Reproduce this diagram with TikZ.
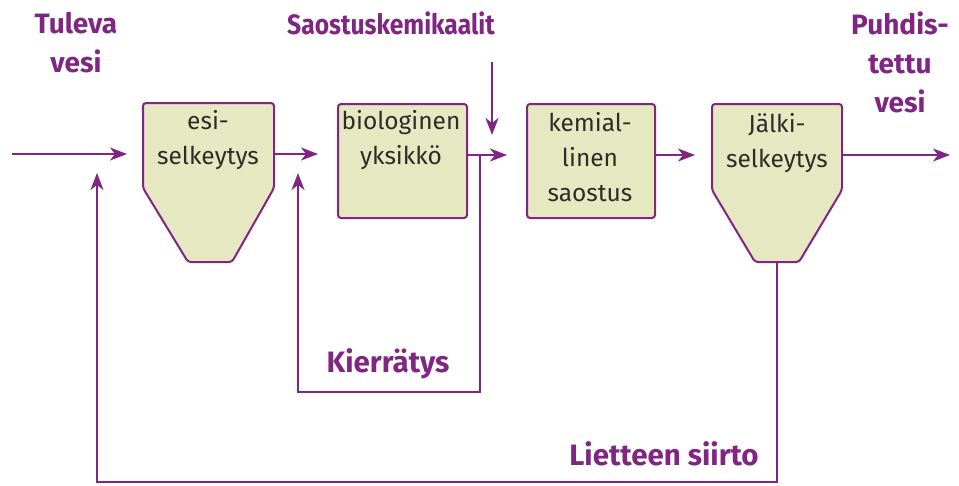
\documentclass[tikz,border=0pt]{standalone}
\usepackage{fontspec}
\setmainfont{Fira Sans}
\usetikzlibrary{arrows.meta}
\definecolor{pur}{RGB}{128,38,130}
\definecolor{boxfill}{RGB}{229,232,192}
\definecolor{txt}{RGB}{45,45,40}
\begin{document}
\begin{tikzpicture}[x=1pt,y=-1pt,
  flow/.style={draw=pur, line width=2pt},
  arr/.style={flow, -{Stealth[length=17pt,width=13pt,inset=5pt]}},
  unit/.style={draw=pur, line width=2pt, fill=boxfill, rounded corners=3pt},
  lab/.style={text=pur, font=\bfseries\fontsize{28}{39}\selectfont, align=center, inner sep=0pt},
  btxt/.style={text=txt, font=\fontsize{24.5}{35}\selectfont, align=center, inner sep=0pt}]
\useasboundingbox (0,0) rectangle (959,485);

% units
\draw[unit] (143,103) -- (274,103) -- (274,188) -- (232,262) -- (188,262) -- (143,188) -- cycle;
\node[btxt] (esi) at (208,140) {esi-\\selkeytys};
\node[unit, minimum width=129pt, minimum height=114pt, anchor=north west] (bio) at (337,103) {};
\node[btxt] (biot) at (401,140) {biologinen\\yksikkö};
\node[unit, minimum width=128pt, minimum height=114pt, anchor=north west] (kem) at (526,103) {};
\node[btxt] (kemt) at (590,157) {kemial-\\linen\\saostus};
\draw[unit] (712,104) -- (842,104) -- (842,190) -- (799,262) -- (755,262) -- (712,190) -- cycle;
\node[btxt] (jal) at (777,143) {Jälki-\\selkeytys};

% labels
\node[lab] (tul) at (76,43) {Tuleva\\vesi};
\node[lab] (sao) at (391,23) {\scalebox{0.88}[1]{Saostuskemikaalit}};
\node[lab] (puh) at (900,62) {Puhdis-\\tettu\\vesi};
\node[lab, font=\bfseries\fontsize{29.5}{39}\selectfont] (kie) at (388,364) {Kierrätys};
\node[lab, font=\bfseries\fontsize{29.5}{39}\selectfont] (lie) at (664,454) {Lietteen siirto};

% coordinates
\coordinate (in0) at (12,154);
\coordinate (in1) at (127,154);
\coordinate (esiR) at (274,154);
\coordinate (m1) at (318,154);
\coordinate (r1) at (97,173);
\coordinate (r2) at (298,173);
\coordinate (bioR) at (466,155);
\coordinate (br) at (480,155);
\coordinate (m2) at (507,155);
\coordinate (c0) at (492,62);
\coordinate (c1) at (492,135);
\coordinate (kemR) at (654,155);
\coordinate (m3) at (695,155);
\coordinate (jalR) at (842,155);
\coordinate (out) at (950,155);
\coordinate (jalB) at (777,262);
\coordinate (k1) at (480,392);
\coordinate (k2) at (298,392);
\coordinate (l1) at (777,482);
\coordinate (l2) at (97,482);

% connectors
\draw[arr] (in0) -- (in1);
\draw[arr] (esiR) -- (m1);
\draw[arr] (bioR) -- (m2);
\draw[arr] (c0) -- (c1);
\draw[arr] (kemR) -- (m3);
\draw[arr] (jalR) -- (out);
\draw[arr] (br) -- (k1) -- (k2) -- (r2);
\draw[arr] (jalB) -- (l1) -- (l2) -- (r1);
\end{tikzpicture}
\end{document}
